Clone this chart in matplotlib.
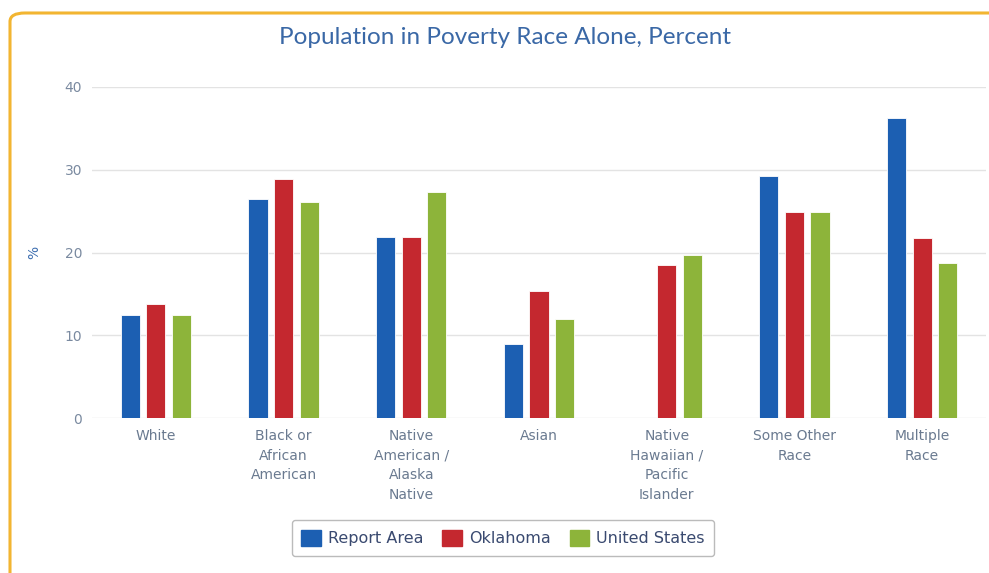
import matplotlib
matplotlib.use("Agg")
import matplotlib.pyplot as plt
import numpy as np
from matplotlib.patches import FancyBboxPatch, Patch

categories = ["White", "Black or\nAfrican\nAmerican", "Native\nAmerican /\nAlaska\nNative",
              "Asian", "Native\nHawaiian /\nPacific\nIslander", "Some Other\nRace", "Multiple\nRace"]
report_area = [12.4, 26.5, 21.9, 8.9, 0.0, 29.2, 36.3]
oklahoma = [13.8, 28.9, 21.9, 15.4, 18.5, 24.9, 21.8]
united_states = [12.4, 26.1, 27.3, 12.0, 19.7, 24.9, 18.7]
series_names = ["Report Area", "Oklahoma", "United States"]
colors = ["#1c5fb2", "#c4282f", "#8db43a"]
yticks = [0, 10, 20, 30, 40]

W, H = 989, 573
fig = plt.figure(figsize=(W / 100, H / 100), dpi=100)
fig.patch.set_facecolor("white")

# Orange frame
frame = FancyBboxPatch((10 / W, -0.05), 1.1, 1 - 13 / H + 0.05,
                       boxstyle="round,pad=0,rounding_size=0.015",
                       transform=fig.transFigure, fill=False,
                       edgecolor="#f2b531", linewidth=2.2, zorder=0)
fig.patches.append(frame)

ax = fig.add_axes([92 / W, 1 - 418 / H, (986 - 92) / W, (418 - 87) / H])
x = np.arange(len(categories))
offset = 0.2
width = 0.15
for i, (vals, c) in enumerate(zip([report_area, oklahoma, united_states], colors)):
    ax.bar(x + (i - 1) * offset, vals, width=width, color=c, edgecolor="white",
           linewidth=0.6, zorder=3)

ax.set_xlim(-0.5, len(categories) - 0.5)
ax.set_ylim(0, 40)
ax.set_yticks(yticks)
ax.set_yticklabels([str(v) for v in yticks], color="#7a8aa0", fontsize=10)
ax.set_xticks(x)
ax.set_xticklabels(categories, color="#6a7a90", fontsize=10, linespacing=1.5, va="top")
ax.tick_params(axis="both", length=0)
ax.tick_params(axis="x", pad=8)
ax.tick_params(axis="y", pad=7)
ax.grid(axis="y", color="#e3e3e3", linewidth=1, zorder=0)
for s in ax.spines.values():
    s.set_visible(False)
ax.set_ylabel("%", color="#3d6eb0", fontsize=10, labelpad=17)

fig.text(505 / W, 1 - 38 / H, "Population in Poverty Race Alone, Percent",
         ha="center", va="center", fontsize=17.5, color="#3a68a6", family="Lato")

handles = [Patch(facecolor=c, edgecolor=c) for c in colors]
leg = fig.legend(handles, series_names, loc="center", bbox_to_anchor=(503 / W, 1 - 538 / H),
                 ncol=3, fontsize=11.5, frameon=True, fancybox=True, handlelength=1.2,
                 handleheight=1.2, handletextpad=0.45, columnspacing=1.2, borderpad=0.6)
leg.get_frame().set_edgecolor("#aaaaaa")
leg.get_frame().set_linewidth(1.0)
for t in leg.get_texts():
    t.set_color("#3a4a70")

fig.savefig("out.png", dpi=100)
